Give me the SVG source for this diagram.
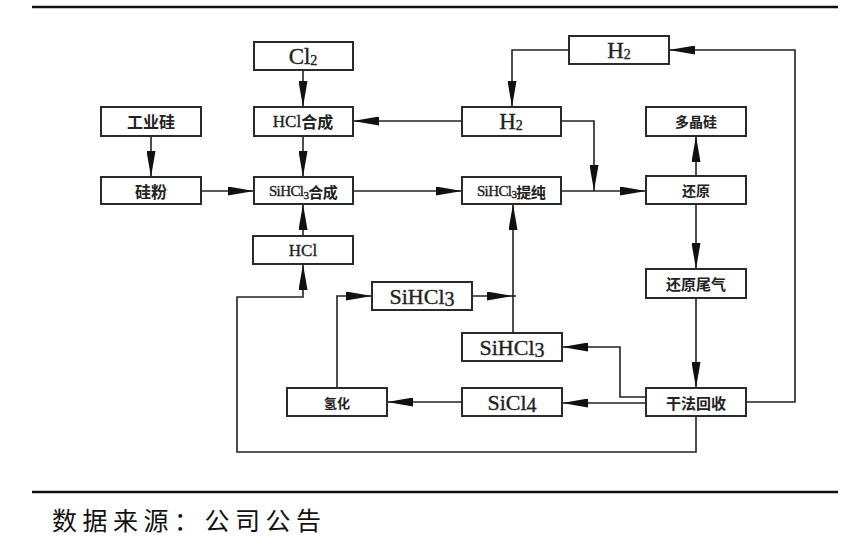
<svg xmlns="http://www.w3.org/2000/svg" width="864" height="549" viewBox="0 0 864 549">
<style>
.box{fill:#fff;stroke:#2a2a2a;stroke-width:2}
.ln{fill:none;stroke:#222;stroke-width:1.6}
.t{font-family:"Liberation Serif","Noto Sans CJK SC",serif;fill:#222;stroke:#222;stroke-width:0.35;text-anchor:middle;dominant-baseline:central}
.c{font-family:"Noto Sans CJK SC",sans-serif;font-weight:bold;stroke:none}
.cap{font-family:"Noto Sans CJK SC",sans-serif;fill:#111;font-size:25px;letter-spacing:5.5px}
</style>
<defs>
<marker id="ah" viewBox="0 0 26 9" refX="26" refY="4.5" markerWidth="26" markerHeight="9" markerUnits="userSpaceOnUse" orient="auto">
<path d="M0,0 L26,4.5 L0,9 z" fill="#111"/>
</marker>
</defs>
<rect width="864" height="549" fill="#fff"/>
<line x1="32" y1="7" x2="838" y2="7" stroke="#111" stroke-width="2.5"/>
<line x1="32" y1="492" x2="838" y2="492" stroke="#111" stroke-width="2.5"/>
<text class="cap" x="52" y="530">数据来源：公司公告</text>

<g id="connectors">
<line class="ln" x1="303" y1="70" x2="303" y2="107" marker-end="url(#ah)"/>
<line class="ln" x1="151" y1="136" x2="151" y2="177" marker-end="url(#ah)"/>
<line class="ln" x1="303" y1="136" x2="303" y2="177" marker-end="url(#ah)"/>
<line class="ln" x1="201" y1="191" x2="254" y2="191" marker-end="url(#ah)"/>
<line class="ln" x1="462" y1="121" x2="353" y2="121" marker-end="url(#ah)"/>
<polyline class="ln" points="569,50 512,50 512,107" marker-end="url(#ah)"/>
<polyline class="ln" points="746,402 795,402 795,50 669,50" marker-end="url(#ah)"/>
<line class="ln" x1="353" y1="191" x2="462" y2="191" marker-end="url(#ah)"/>
<polyline class="ln" points="561,121 594,121 594,191" marker-end="url(#ah)"/>
<line class="ln" x1="561" y1="191" x2="646" y2="191" marker-end="url(#ah)"/>
<line class="ln" x1="696" y1="176" x2="696" y2="136" marker-end="url(#ah)"/>
<line class="ln" x1="696" y1="204" x2="696" y2="269" marker-end="url(#ah)"/>
<line class="ln" x1="696" y1="298" x2="696" y2="388" marker-end="url(#ah)"/>
<polyline class="ln" points="646,397 620,397 620,347 562,347" marker-end="url(#ah)"/>
<line class="ln" x1="646" y1="403" x2="562" y2="403" marker-end="url(#ah)"/>
<line class="ln" x1="462" y1="402" x2="387" y2="402" marker-end="url(#ah)"/>
<polyline class="ln" points="337,388 337,296 372,296" marker-end="url(#ah)"/>
<line class="ln" x1="472" y1="296" x2="513" y2="296" marker-end="url(#ah)"/>
<line class="ln" x1="512" y1="296" x2="516" y2="296"/>
<line class="ln" x1="513" y1="333" x2="513" y2="204" marker-end="url(#ah)"/>
<polyline class="ln" points="696,416 696,452 237,452 237,297 303,297 303,264" marker-end="url(#ah)"/>
<line class="ln" x1="303" y1="236" x2="303" y2="204" marker-end="url(#ah)"/>
</g>

<g id="n-cl2"><rect class="box" x="254" y="42" width="99" height="28"/><text class="t" x="303" y="56" font-size="23">Cl<tspan font-size="14" dy="4">2</tspan></text></g>
<g id="n-gongyegui"><rect class="box" x="101" y="107" width="100" height="29"/><text class="t c" x="151" y="121" font-size="16">工业硅</text></g>
<g id="n-hclhecheng"><rect class="box" x="254" y="107" width="99" height="29"/><text class="t" x="303" y="121" font-size="17">HCl<tspan class="c" font-size="16">合成</tspan></text></g>
<g id="n-guifen"><rect class="box" x="101" y="177" width="100" height="27"/><text class="t c" x="151" y="191" font-size="16">硅粉</text></g>
<g id="n-sihcl3hecheng"><rect class="box" x="254" y="177" width="99" height="27"/><text class="t" x="303" y="191" font-size="15" letter-spacing="-0.6">SiHCl<tspan font-size="11" dy="4">3</tspan><tspan class="c" font-size="15" dy="-4">合成</tspan></text></g>
<g id="n-h2top"><rect class="box" x="569" y="36" width="100" height="28"/><text class="t" x="619" y="50" font-size="23">H<tspan font-size="14" dy="4">2</tspan></text></g>
<g id="n-h2mid"><rect class="box" x="462" y="107" width="99" height="29"/><text class="t" x="511" y="121" font-size="23">H<tspan font-size="14" dy="4">2</tspan></text></g>
<g id="n-duojinggui"><rect class="box" x="646" y="107" width="100" height="29"/><text class="t c" x="696" y="121" font-size="14">多晶硅</text></g>
<g id="n-tichun"><rect class="box" x="462" y="177" width="99" height="27"/><text class="t" x="511" y="191" font-size="15" letter-spacing="-0.6">SiHCl<tspan font-size="11" dy="3">3</tspan><tspan class="c" font-size="15" dy="-3">提纯</tspan></text></g>
<g id="n-huanyuan"><rect class="box" x="646" y="176" width="100" height="28"/><text class="t c" x="696" y="190" font-size="14">还原</text></g>
<g id="n-hcl"><rect class="box" x="253" y="236" width="100" height="28"/><text class="t" x="303" y="250" font-size="17">HCl</text></g>
<g id="n-weiqi"><rect class="box" x="646" y="269" width="100" height="29"/><text class="t c" x="696" y="283" font-size="15">还原尾气</text></g>
<g id="n-sihcl3a"><rect class="box" x="372" y="282" width="100" height="28"/><text class="t" x="422" y="296" font-size="22">SiHCl<tspan font-size="20" dy="3">3</tspan></text></g>
<g id="n-sihcl3b"><rect class="box" x="462" y="333" width="100" height="28"/><text class="t" x="512" y="347" font-size="22">SiHCl<tspan font-size="20" dy="3">3</tspan></text></g>
<g id="n-qinghua"><rect class="box" x="287" y="388" width="100" height="28"/><text class="t c" x="337" y="402" font-size="13">氢化</text></g>
<g id="n-sicl4"><rect class="box" x="462" y="388" width="100" height="28"/><text class="t" x="512" y="402" font-size="22">SiCl<tspan font-size="20" dy="3">4</tspan></text></g>
<g id="n-ganfa"><rect class="box" x="646" y="388" width="100" height="28"/><text class="t c" x="696" y="402" font-size="15">干法回收</text></g>
</svg>
